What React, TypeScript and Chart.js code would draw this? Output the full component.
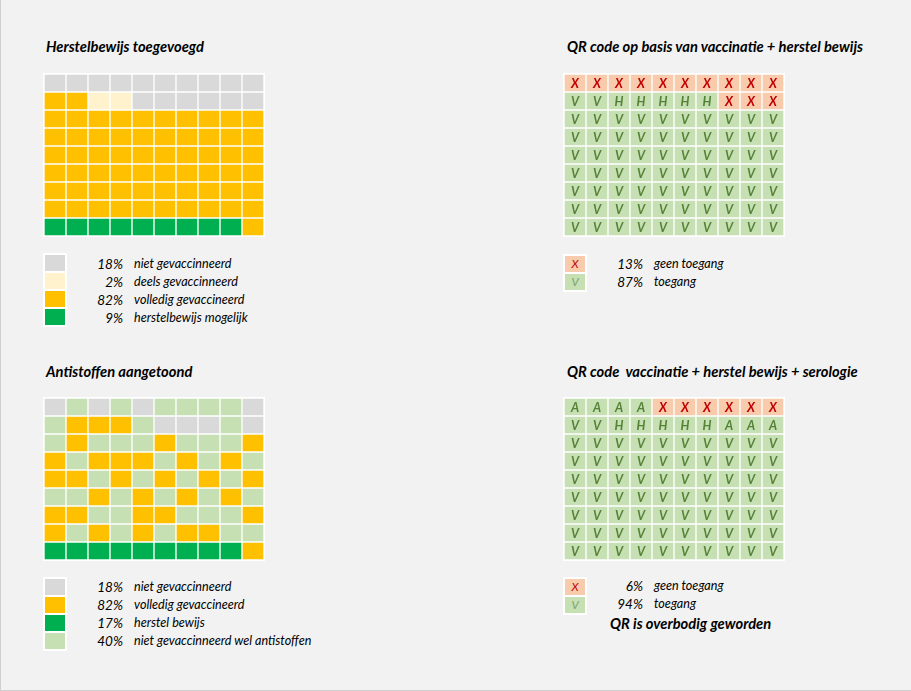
import React, { useEffect, useRef } from "react";
import { Chart, registerables } from "chart.js";
Chart.register(...registerables);

// ---------- DATA ----------
const columns = ["1", "2", "3", "4", "5", "6", "7", "8", "9", "10"];
const cellValue = 1;

// G = niet gevaccineerd, C = deels, Y = volledig, N = herstel, L = antistoffen
const herstelRows = [
  "GGGGGGGGGG",
  "YYCCGGGGGG",
  "YYYYYYYYYY",
  "YYYYYYYYYY",
  "YYYYYYYYYY",
  "YYYYYYYYYY",
  "YYYYYYYYYY",
  "YYYYYYYYYY",
  "NNNNNNNNNY",
];
const qrHerstelRows = [
  "XXXXXXXXXX",
  "VVHHHHHXXX",
  "VVVVVVVVVV",
  "VVVVVVVVVV",
  "VVVVVVVVVV",
  "VVVVVVVVVV",
  "VVVVVVVVVV",
  "VVVVVVVVVV",
  "VVVVVVVVVV",
];
const antistofRows = [
  "GLGLGLLLLG",
  "LYYYLGGGLG",
  "LYLLLYLLLY",
  "YLYYYLYLYL",
  "YYLYLYLYLY",
  "LLYLYLYLYL",
  "YYLLYYLLLY",
  "YLYLYLYYLL",
  "NNNNNNNNNY",
];
const qrSerologieRows = [
  "AAAAXXXXXX",
  "VVHHHHHAAA",
  "VVVVVVVVVV",
  "VVVVVVVVVV",
  "VVVVVVVVVV",
  "VVVVVVVVVV",
  "VVVVVVVVVV",
  "VVVVVVVVVV",
  "VVVVVVVVVV",
];

const herstelLegend = [
  { key: "G", pct: "18%", label: "niet gevaccinneerd" },
  { key: "C", pct: "2%", label: "deels gevaccinneerd" },
  { key: "Y", pct: "82%", label: "volledig gevaccineerd" },
  { key: "N", pct: "9%", label: "herstelbewijs mogelijk" },
];
const antistofLegend = [
  { key: "G", pct: "18%", label: "niet gevaccinneerd" },
  { key: "Y", pct: "82%", label: "volledig gevaccineerd" },
  { key: "N", pct: "17%", label: "herstel bewijs" },
  { key: "L", pct: "40%", label: "niet gevaccinneerd wel antistoffen" },
];
const qrHerstelLegend = [
  { key: "X", pct: "13%", label: "geen toegang" },
  { key: "V", pct: "87%", label: "toegang" },
];
const qrSerologieLegend = [
  { key: "X", pct: "6%", label: "geen toegang" },
  { key: "V", pct: "94%", label: "toegang" },
];

// ---------- STYLE ----------
const fills: Record<string, string> = {
  G: "#d9d9d9",
  C: "#fff2cc",
  Y: "#ffc000",
  N: "#00b050",
  L: "#c6e0b4",
  X: "#f8cbad",
  V: "#c6e0b4",
  H: "#c6e0b4",
  A: "#c6e0b4",
};
const letterCodes = ["X", "V", "H", "A"];
const FONT = "Lato, 'Open Sans', sans-serif";

const letterPlugin = {
  id: "cellLetters",
  afterDatasetsDraw(chart: any) {
    const ctx = chart.ctx;
    ctx.save();
    ctx.textAlign = "center";
    ctx.textBaseline = "middle";
    chart.data.datasets.forEach((ds: any, di: number) => {
      const meta = chart.getDatasetMeta(di);
      meta.data.forEach((el: any, i: number) => {
        const ch = ds.codes?.[i];
        if (!ch || letterCodes.indexOf(ch) < 0) return;
        const p = el.getProps(["x", "y", "base"], true);
        ctx.fillStyle = ch === "X" ? "#c00000" : "#548235";
        ctx.font = `italic bold 12.5px ${FONT}`;
        ctx.fillText(ch, p.x, (p.y + p.base) / 2 + 0.5);
      });
    });
    ctx.restore();
  },
};

function Waffle({ rows, left, top }: { rows: string[]; left: number; top: number }) {
  const ref = useRef<HTMLCanvasElement>(null);
  useEffect(() => {
    if (!ref.current) return;
    const bottomUp = rows.slice().reverse();
    const chart = new Chart(ref.current, {
      type: "bar",
      data: {
        labels: columns,
        datasets: bottomUp.map((r, i) => ({
          label: "row" + i,
          data: columns.map(() => cellValue),
          codes: r.split(""),
          backgroundColor: r.split("").map((c) => fills[c]),
          borderColor: "#ffffff",
          borderWidth: 1,
          borderSkipped: false,
          barPercentage: 1,
          categoryPercentage: 1,
        })) as any,
      },
      options: {
        animation: false,
        responsive: false,
        maintainAspectRatio: false,
        layout: { padding: 0 },
        events: [],
        plugins: { legend: { display: false }, tooltip: { enabled: false }, title: { display: false } },
        scales: {
          x: { stacked: true, display: false },
          y: { stacked: true, display: false, min: 0, max: rows.length },
        },
      },
      plugins: [letterPlugin],
    });
    return () => chart.destroy();
  }, [rows]);
  return (
    <div
      style={{
        position: "absolute",
        left: left - 1,
        top: top - 1,
        width: 222,
        height: 164,
        background: "#ffffff",
      }}
    >
      <canvas ref={ref} width={220} height={162} style={{ position: "absolute", left: 1, top: 1, width: 220, height: 162 }} />
    </div>
  );
}

function Legend({
  items,
  left,
  top,
  pctRight,
  labelLeft,
  textShift,
}: {
  items: { key: string; pct: string; label: string }[];
  left: number;
  top: number;
  pctRight: number;
  labelLeft: number;
  textShift: number;
}) {
  return (
    <>
      <div
        style={{
          position: "absolute",
          left,
          top,
          width: 24,
          height: items.length * 18 + 2,
          background: "#ffffff",
        }}
      >
        {items.map((it, i) => (
          <div
            key={i}
            style={{
              position: "absolute",
              left: 2,
              top: 2 + i * 18,
              width: 20,
              height: 16,
              background: fills[it.key],
              color: it.key === "X" ? "#c00000" : "#7f9f6a",
              font: `italic 11.5px ${FONT}`,
              lineHeight: "16px",
              textAlign: "center",
            }}
          >
            {letterCodes.indexOf(it.key) >= 0 ? it.key : ""}
          </div>
        ))}
      </div>
      {items.map((it, i) => (
        <React.Fragment key={"t" + i}>
          <div
            style={{
              position: "absolute",
              left: pctRight - 40,
              width: 40,
              top: top + 1 + textShift + i * 18,
              height: 18,
              lineHeight: "18px",
              textAlign: "right",
              font: `italic 13.5px ${FONT}`,
              color: "#000",
            }}
          >
            {it.pct}
          </div>
          <div
            style={{
              position: "absolute",
              left: labelLeft,
              top: top + 1 + textShift + i * 18,
              height: 18,
              lineHeight: "18px",
              whiteSpace: "nowrap",
              font: `italic 12.6px ${FONT}`,
              color: "#000",
            }}
          >
            {it.label}
          </div>
        </React.Fragment>
      ))}
    </>
  );
}

function Title({ text, left, center }: { text: string; left: number; center: number }) {
  return (
    <div
      style={{
        position: "absolute",
        left,
        top: center - 10,
        height: 20,
        lineHeight: "20px",
        whiteSpace: "pre",
        font: `italic bold 14.7px ${FONT}`,
        color: "#000",
      }}
    >
      {text}
    </div>
  );
}

export default function App() {
  return (
    <div
      style={{
        position: "absolute",
        left: 0,
        top: 0,
        width: 911,
        height: 691,
        background: "#f2f2f2",
        overflow: "hidden",
        fontFamily: FONT,
      }}
    >
      <Title text="Herstelbewijs toegevoegd" left={46} center={47} />
      <Title text="QR code op basis van vaccinatie + herstel bewijs" left={567} center={47} />
      <Title text="Antistoffen aangetoond" left={46} center={372} />
      <Title text="QR code  vaccinatie + herstel bewijs + serologie" left={567} center={372} />

      <Waffle rows={herstelRows} left={44} top={74} />
      <Waffle rows={qrHerstelRows} left={564} top={74} />
      <Waffle rows={antistofRows} left={44} top={398} />
      <Waffle rows={qrSerologieRows} left={564} top={398} />

      <Legend items={herstelLegend} left={43} top={253} pctRight={123} labelLeft={134} textShift={2} />
      <Legend items={antistofLegend} left={43} top={577} pctRight={123} labelLeft={134} textShift={1} />
      <Legend items={qrHerstelLegend} left={563} top={254} pctRight={643} labelLeft={654} textShift={1} />
      <Legend items={qrSerologieLegend} left={563} top={577} pctRight={643} labelLeft={654} textShift={0} />

      <div
        style={{
          position: "absolute",
          left: 610,
          top: 614,
          height: 20,
          lineHeight: "20px",
          whiteSpace: "nowrap",
          font: `italic bold 14.7px ${FONT}`,
          color: "#000",
        }}
      >
        QR is overbodig geworden
      </div>
      <div
        style={{
          position: "absolute",
          left: 0,
          top: 0,
          width: 911,
          height: 691,
          boxSizing: "border-box",
          borderLeft: "1px solid #d0d0d0",
          borderBottom: "1px solid #d0d0d0",
          pointerEvents: "none",
        }}
      />
    </div>
  );
}
